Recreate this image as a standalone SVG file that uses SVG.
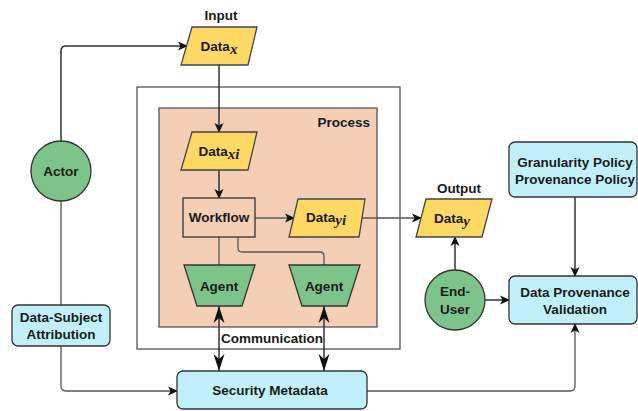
<svg xmlns="http://www.w3.org/2000/svg" width="638" height="411" viewBox="0 0 638 411">
  <style>
    text { font-family: "Liberation Sans", Arial, sans-serif; font-weight: bold; font-size: 13.5px; fill: #1a1a1a; text-anchor: middle; }
    .sub { font-family: "Liberation Serif", "Times New Roman", serif; font-style: italic; font-weight: bold; font-size: 15px; }
    .data { fill: #FFD966; stroke: #444; stroke-width: 1.3; }
    .agent { fill: #7DC48A; stroke: #333; stroke-width: 1.3; }
    .info { fill: #C2F0FA; stroke: #333; stroke-width: 1.3; }
    .edge { fill: none; stroke: #333; stroke-width: 1.5; }
    .thin { fill: none; stroke: #555; stroke-width: 1.3; }
  </style>
  <defs>
    <marker id="arrow" viewBox="0 0 10 10" refX="9" refY="5" markerWidth="10" markerHeight="10" markerUnits="userSpaceOnUse" orient="auto">
      <path d="M0,0.5 L10,5 L0,9.5 L2.5,5 Z" fill="#111"/>
    </marker>
    <marker id="thinArrow" viewBox="0 0 18 12" refX="17" refY="6" markerWidth="18" markerHeight="12" markerUnits="userSpaceOnUse" orient="auto-start-reverse">
      <path d="M0,0.5 L17,6 L0,11.5 L5,6 Z" fill="#111"/>
    </marker>
  </defs>

  <!-- containers -->
  <g id="outer-boundary">
    <rect x="137" y="87" width="263" height="262" fill="#fff" stroke="#555" stroke-width="1.3"/>
  </g>
  <g id="process">
    <rect x="159" y="108" width="218" height="219" fill="#F4CFB6" stroke="#555" stroke-width="1.3"/>
    <text x="370" y="127" style="text-anchor:end">Process</text>
  </g>

  <!-- connectors -->
  <g id="connectors">
    <path class="edge" d="M61,141 V51 Q61,46 66,46 H187" marker-end="url(#arrow)"/>
    <path class="edge" d="M219,65 V132" marker-end="url(#arrow)"/>
    <path class="edge" d="M219,170 V198" marker-end="url(#arrow)"/>
    <path class="thin" d="M255,218 H294" marker-end="url(#arrow)"/>
    <path class="thin" d="M361,218 H421" marker-end="url(#arrow)"/>
    <path class="thin" d="M219,237 V265"/>
    <path class="thin" d="M238,237 V248 Q238,252 242,252 H320 Q324,252 324,256 V265"/>
    <path class="edge" d="M219,306 V371" marker-start="url(#thinArrow)" marker-end="url(#thinArrow)"/>
    <path class="edge" d="M324,306 V371" marker-start="url(#thinArrow)" marker-end="url(#thinArrow)"/>
    <path class="edge" d="M455,270 V237" marker-end="url(#arrow)"/>
    <path class="edge" d="M485,300 H509" marker-end="url(#arrow)"/>
    <path class="edge" d="M575,197 V276" marker-end="url(#arrow)"/>
    <path class="thin" d="M61,201 V305"/>
    <path class="thin" d="M61,346 V386 Q61,391 66,391 H177" marker-end="url(#arrow)"/>
    <path class="thin" d="M367,391 H570 Q575,391 575,386 V324" marker-end="url(#arrow)"/>
  </g>

  <!-- nodes -->
  <g id="input-data">
    <text x="221" y="20">Input</text>
    <polygon class="data" points="192,27 257,27 248,65 181,65"/>
    <text x="219" y="51"><tspan>Data</tspan><tspan class="sub" dy="3">x</tspan></text>
  </g>
  <g id="data-xi">
    <polygon class="data" points="192,132 257,132 248,170 181,170"/>
    <text x="219" y="156"><tspan>Data</tspan><tspan class="sub" dy="3">xi</tspan></text>
  </g>
  <g id="workflow">
    <rect x="183" y="198" width="72" height="39" fill="#F4CFB6" stroke="#333" stroke-width="1.3"/>
    <text x="219" y="222">Workflow</text>
  </g>
  <g id="data-yi">
    <polygon class="data" points="298,199 365,199 359,237 289,237"/>
    <text x="326" y="222"><tspan>Data</tspan><tspan class="sub" dy="3">yi</tspan></text>
  </g>
  <g id="agent-1">
    <polygon class="agent" points="184,265 255,265 242,306 197,306"/>
    <text x="219" y="291">Agent</text>
  </g>
  <g id="agent-2">
    <polygon class="agent" points="289,265 360,265 347,306 302,306"/>
    <text x="324" y="291">Agent</text>
  </g>
  <g id="communication-label">
    <text x="272" y="343">Communication</text>
  </g>
  <g id="output-data">
    <text x="459" y="193">Output</text>
    <polygon class="data" points="426,199 492,199 482,237 416,237"/>
    <text x="452" y="223"><tspan>Data</tspan><tspan class="sub" dy="3">y</tspan></text>
  </g>
  <g id="actor">
    <circle class="agent" cx="61" cy="171" r="30"/>
    <text x="61" y="176">Actor</text>
  </g>
  <g id="end-user">
    <circle class="agent" cx="455" cy="300" r="30"/>
    <text x="455" y="296">End-</text>
    <text x="455" y="314">User</text>
  </g>
  <g id="data-subject-attribution">
    <rect class="info" x="12" y="305" width="98" height="41" rx="6"/>
    <text x="61" y="322">Data-Subject</text>
    <text x="61" y="339">Attribution</text>
  </g>
  <g id="security-metadata">
    <rect class="info" x="177" y="371" width="190" height="38" rx="6"/>
    <text x="270" y="395">Security Metadata</text>
  </g>
  <g id="policies">
    <rect class="info" x="509" y="142" width="128" height="55" rx="6"/>
    <text x="575" y="167">Granularity Policy</text>
    <text x="575" y="184">Provenance Policy</text>
  </g>
  <g id="provenance-validation">
    <rect class="info" x="509" y="276" width="128" height="48" rx="6"/>
    <text x="575" y="297">Data Provenance</text>
    <text x="575" y="314">Validation</text>
  </g>
</svg>
